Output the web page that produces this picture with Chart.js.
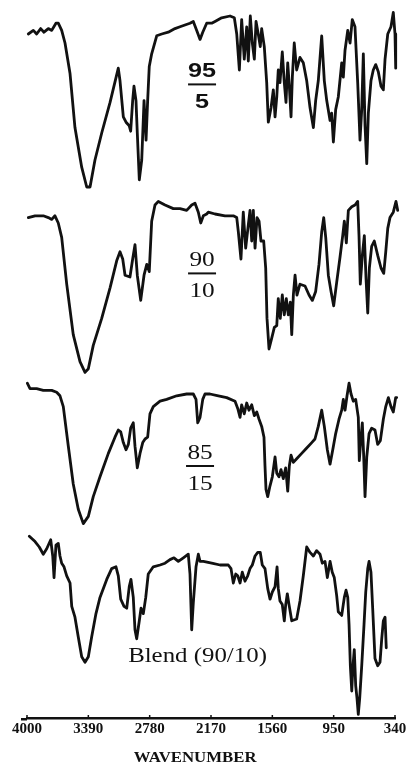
<!DOCTYPE html>
<html>
<head>
<meta charset="utf-8">
<script src="https://cdn.jsdelivr.net/npm/chart.js@4.4.1/dist/chart.umd.min.js"></script>
<style>
  html, body { margin: 0; padding: 0; background: #fff; }
  canvas { display: block; }
</style>
</head>
<body>
<canvas id="ir" width="409" height="766"></canvas>
<script>
// IR spectra of the copolymer compositions and the blend (wavenumber in cm-1, %T)
const wave95 = [3987,3937,3904,3864,3831,3788,3754,3712,3689,3655,3622,3572,3523,3456,3406,3373,3324,3257,3174,3092,3075,3042,3015,2983,2969,2949,2936,2916,2903,2883,2859,2836,2816,2800,2784,2760,2710,2660,2595,2528,2478,2429,2379,2346,2312,2279,2252,2213,2163,2130,2064,1981,1938,1914,1888,1865,1839,1815,1799,1779,1759,1739,1722,1700,1680,1666,1640,1616,1600,1573,1550,1533,1516,1501,1484,1461,1441,1424,1407,1391,1374,1361,1342,1318,1285,1252,1218,1185,1152,1129,1103,1069,1043,1019,986,970,953,930,904,870,854,837,810,787,765,738,711,688,671,655,638,621,605,579,556,532,506,479,456,439,412,380,357,340,333];
const trans95 = [87,89,87,90,88,90,89,93,93,89,82,65,35,13,2,2,17,32,49,68,61,41,38,36,33,50,58,50,32,6,17,50,28,50,69,76,86,87,88,90,91,92,93,94,89,84,88,93,93,94,96,97,96,87,67,95,73,91,72,97,82,73,94,87,80,90,80,60,38,46,56,41,52,67,60,77,60,49,71,58,41,63,82,67,74,71,61,46,35,50,61,86,61,50,39,43,27,45,52,71,63,78,89,82,95,91,60,28,45,76,36,15,43,61,67,70,66,58,56,73,87,91,99,87,68];

const wave90 = [3987,3920,3838,3788,3754,3722,3689,3655,3605,3540,3473,3423,3390,3341,3257,3174,3108,3075,3048,3025,2976,2949,2926,2903,2869,2836,2809,2784,2760,2727,2694,2627,2545,2478,2412,2362,2329,2296,2272,2246,2213,2197,2130,2031,1948,1914,1898,1872,1849,1825,1799,1782,1765,1749,1732,1712,1692,1673,1646,1626,1613,1593,1566,1540,1516,1501,1481,1461,1441,1421,1401,1381,1367,1351,1334,1315,1285,1235,1195,1162,1129,1096,1069,1049,1029,1003,976,950,920,887,860,844,824,804,770,738,711,698,685,665,645,628,611,595,572,546,512,479,452,432,412,390,357,330,313];
const trans90 = [88,89,89,88,87,89,85,77,51,23,8,2,4,17,32,49,64,69,65,56,55,65,73,56,42,56,62,58,86,95,97,95,93,93,92,95,96,91,85,89,90,91,90,89,89,88,80,65,91,71,84,92,75,92,71,88,86,75,75,60,32,15,21,27,28,43,32,45,34,43,34,41,23,45,56,45,51,50,45,42,47,62,80,88,77,56,47,39,52,66,78,86,74,92,94,95,97,78,51,67,78,54,35,60,72,75,67,60,57,69,82,88,91,97,92];

const wave85 = [3997,3970,3904,3838,3754,3705,3672,3639,3589,3540,3490,3440,3390,3341,3274,3191,3125,3092,3068,3042,3015,2992,2969,2943,2926,2903,2876,2849,2826,2800,2777,2744,2677,2611,2511,2412,2346,2319,2302,2279,2252,2230,2180,2097,2014,1931,1904,1881,1865,1839,1815,1792,1765,1739,1715,1692,1666,1643,1633,1623,1606,1583,1560,1533,1516,1494,1474,1451,1427,1407,1391,1374,1351,1318,1268,1218,1168,1136,1103,1069,1043,1013,986,959,930,897,870,854,837,817,797,777,755,731,705,695,678,665,651,638,621,598,572,539,512,486,456,432,406,380,357,333,323];
const trans85 = [98,95,95,94,94,93,91,85,63,42,28,20,24,35,46,59,68,72,71,65,61,64,73,76,63,51,59,65,67,68,81,85,88,89,91,92,92,89,76,79,89,92,92,91,90,88,84,79,86,81,87,83,86,80,82,78,74,68,52,39,35,41,46,57,48,46,50,45,51,38,52,58,54,56,59,62,65,67,74,83,74,61,53,61,70,78,83,89,83,91,98,92,88,89,79,55,68,76,57,35,57,70,73,72,64,66,78,85,90,85,82,90,90];

const waveBlend = [3977,3920,3878,3838,3804,3764,3744,3731,3712,3689,3672,3655,3632,3605,3572,3555,3523,3490,3456,3423,3390,3357,3314,3274,3207,3158,3115,3092,3068,3035,3008,2983,2966,2943,2926,2909,2883,2866,2843,2819,2794,2744,2677,2627,2578,2538,2495,2445,2396,2379,2362,2346,2319,2296,2279,2246,2163,2080,1998,1971,1948,1924,1904,1881,1859,1832,1805,1782,1759,1732,1705,1680,1660,1633,1606,1583,1560,1533,1513,1501,1484,1461,1441,1427,1411,1394,1367,1318,1285,1252,1218,1185,1152,1119,1086,1063,1036,1013,986,964,944,920,904,870,844,827,810,797,784,770,758,745,731,718,705,691,671,648,631,611,598,579,562,539,512,489,472,456,439,427];
const transBlend = [99,96,93,89,92,97,88,76,94,95,88,84,82,77,73,60,54,43,32,29,32,43,56,65,75,81,82,77,64,60,59,71,75,65,47,42,52,59,56,65,78,82,83,84,86,87,85,87,89,78,47,62,82,89,85,85,84,83,83,81,73,78,77,73,79,74,77,81,83,88,90,90,83,81,70,64,68,71,82,70,63,61,52,61,67,61,52,53,63,77,93,90,88,91,89,84,85,76,85,79,76,66,57,55,65,69,65,50,27,13,27,36,16,9,0,9,27,50,68,81,85,79,59,31,27,29,42,52,54,37];

const seriesNames = ['95/5', '90/10', '85/15', 'Blend (90/10)'];
const tickValues = [4000, 3390, 2780, 2170, 1560, 950, 340];
const axisTitle = 'WAVENUMBER';

// Layout: vertical offset of each trace on the shared %T scale, and label anchors
const stackOffset = [293, 190, 88, 2];
const labelAnchor = [
  { wave: 2259, t: 59, kind: 'fraction', font: 'bold 21px "Liberation Sans", Arial, sans-serif', sx: 1.2 },
  { wave: 2259, t: 57, kind: 'fraction', font: '22px "Liberation Serif", "Times New Roman", serif', sx: 1.15 },
  { wave: 2279, t: 52, kind: 'fraction', font: '22px "Liberation Serif", "Times New Roman", serif', sx: 1.15 },
  { wave: 2304, t: 29, kind: 'text', font: '22px "Liberation Serif", "Times New Roman", serif', sx: 1.13 }
];

const traces = [[wave95, trans95], [wave90, trans90], [wave85, trans85], [waveBlend, transBlend]];
const datasets = traces.map(([w, t], i) => ({
  label: seriesNames[i],
  data: w.map((v, k) => ({ x: v, y: stackOffset[i] + t[k] })),
  borderColor: '#111',
  borderWidth: 2.8,
  pointRadius: 0,
  tension: 0,
  fill: false,
  clip: false,
  borderJoinStyle: 'round',
  borderCapStyle: 'round'
}));

function stretchedText(ctx, text, cx, baseline, font, sx) {
  ctx.save();
  ctx.translate(cx, baseline);
  ctx.scale(sx, 1);
  ctx.font = font;
  ctx.textAlign = 'center';
  ctx.textBaseline = 'alphabetic';
  ctx.fillStyle = '#111';
  ctx.fillText(text, 0, 0);
  ctx.restore();
}

const annotations = {
  id: 'annotations',
  afterDraw(chart) {
    const { ctx } = chart;
    const xs = chart.scales.x, ys = chart.scales.y;

    // composition labels next to each trace
    labelAnchor.forEach((a, i) => {
      const cx = xs.getPixelForValue(a.wave);
      const cy = ys.getPixelForValue(stackOffset[i] + a.t);
      if (a.kind === 'fraction') {
        const [num, den] = seriesNames[i].split('/');
        stretchedText(ctx, num, cx, cy - 7, a.font, a.sx);
        stretchedText(ctx, den, cx, cy + 24, a.font, a.sx);
        ctx.save();
        ctx.strokeStyle = '#111';
        ctx.lineWidth = 2;
        ctx.beginPath();
        ctx.moveTo(cx - 14, cy);
        ctx.lineTo(cx + 14, cy);
        ctx.stroke();
        ctx.restore();
      } else {
        stretchedText(ctx, seriesNames[i], cx, cy, a.font, a.sx);
      }
    });

    // axis line runs a little past the 4000 end; short inward tick marks
    ctx.save();
    ctx.strokeStyle = '#111';
    ctx.lineWidth = 2.5;
    ctx.beginPath();
    ctx.moveTo(xs.left - 6, xs.top + 1.25);
    ctx.lineTo(xs.left, xs.top + 1.25);
    ctx.stroke();
    ctx.lineWidth = 1.5;
    tickValues.forEach(v => {
      const px = xs.getPixelForValue(v);
      ctx.beginPath();
      ctx.moveTo(px, xs.top);
      ctx.lineTo(px, xs.top - 3);
      ctx.stroke();
    });
    ctx.restore();

    // axis title
    const tx = xs.left + (xs.right - xs.left) * 0.457;
    stretchedText(ctx, axisTitle, tx, xs.bottom - 4, 'bold 15px "Liberation Serif", "Times New Roman", serif', 1.12);
  }
};

new Chart(document.getElementById('ir'), {
  type: 'line',
  data: { datasets },
  options: {
    responsive: false,
    animation: false,
    events: [],
    layout: { padding: { left: 27, right: 14, top: 7, bottom: 0 } },
    plugins: { legend: { display: false }, tooltip: { enabled: false } },
    scales: {
      x: {
        type: 'linear',
        reverse: true,
        min: 340,
        max: 4000,
        afterBuildTicks: s => { s.ticks = tickValues.map(v => ({ value: v })); },
        afterFit: s => { s.height = 48; },
        grid: { display: false, drawTicks: false },
        border: { display: true, color: '#111', width: 2.5 },
        ticks: {
          autoSkip: false,
          maxRotation: 0,
          padding: 2,
          color: '#111',
          font: { family: '"Liberation Serif", "Times New Roman", serif', weight: 'bold', size: 15 },
          callback: v => String(v)
        }
      },
      y: { display: false, min: 0, max: 395 }
    }
  },
  plugins: [annotations]
});
</script>
</body>
</html>
